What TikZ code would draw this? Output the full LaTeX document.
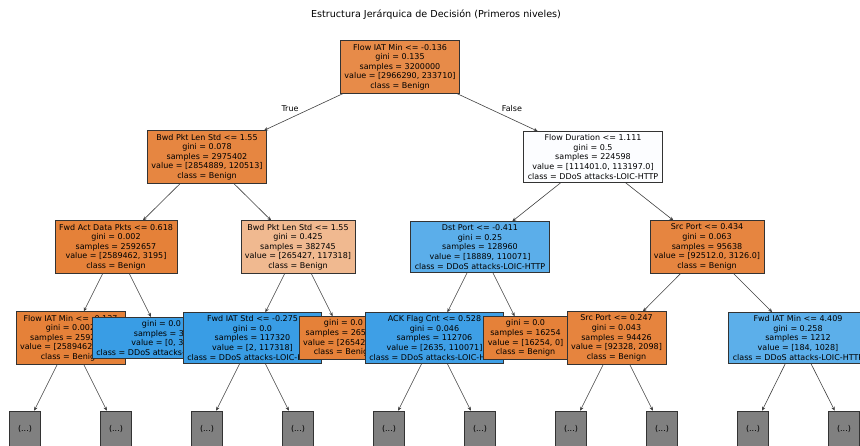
\documentclass[tikz,border=0pt]{standalone}
\usepackage{fontspec}
\setmainfont{DejaVu Sans}
\usetikzlibrary{arrows.meta}
\definecolor{benign}{RGB}{229,129,57}
\definecolor{ddos}{RGB}{57,157,229}
\definecolor{rootfill}{RGB}{231,139,73}
\definecolor{bwdfill}{RGB}{230,134,65}
\definecolor{durfill}{RGB}{252,253,255}
\definecolor{bwdlight}{RGB}{240,185,144}
\definecolor{dstfill}{RGB}{91,174,234}
\definecolor{srcfill}{RGB}{230,133,64}
\definecolor{ackfill}{RGB}{62,159,230}
\definecolor{srclow}{RGB}{230,132,62}
\definecolor{iatfill}{RGB}{92,175,234}
\definecolor{morefill}{RGB}{128,128,128}

\begin{document}
\begin{tikzpicture}[x=1pt, y=-1pt, font=\fontsize{8}{9.6}\selectfont,
  split/.style={draw=black!80, line width=0.6pt, align=center, inner xsep=4pt, inner ysep=3.2pt},
  more/.style={draw=black!80, line width=0.6pt, fill=morefill, minimum width=31pt, minimum height=36pt, inner sep=0pt},
  edge/.style={draw=black!75, line width=0.6pt, -{Stealth[length=4pt,width=3.5pt]}}]
  \useasboundingbox (0,0) rectangle (860,446);
  \clip (0,0) rectangle (860,446);

  \node (title) at (436,15) {\fontsize{9.6}{11}\selectfont Estructura Jerárquica de Decisión (Primeros niveles)};

  \node[split, fill=rootfill] (root) at (400,67) {Flow IAT Min <= -0.136\\gini = 0.135\\samples = 3200000\\value = [2966290, 233710]\\class = Benign};

  \node[split, fill=bwdfill] (bwdA) at (207,157) {Bwd Pkt Len Std <= 1.55\\gini = 0.078\\samples = 2975402\\value = [2854889, 120513]\\class = Benign};
  \node[split, fill=durfill] (flowdur) at (593,157) {Flow Duration <= 1.111\\gini = 0.5\\samples = 224598\\value = [111401.0, 113197.0]\\class = DDoS attacks-LOIC-HTTP};

  \node[split, fill=benign] (fwdact) at (116,247) {Fwd Act Data Pkts <= 0.618\\gini = 0.002\\samples = 2592657\\value = [2589462, 3195]\\class = Benign};
  \node[split, fill=bwdlight] (bwdB) at (298,247) {Bwd Pkt Len Std <= 1.55\\gini = 0.425\\samples = 382745\\value = [265427, 117318]\\class = Benign};
  \node[split, fill=dstfill] (dstport) at (480,247) {Dst Port <= -0.411\\gini = 0.25\\samples = 128960\\value = [18889, 110071]\\class = DDoS attacks-LOIC-HTTP};
  \node[split, fill=srcfill] (srcA) at (707,247) {Src Port <= 0.434\\gini = 0.063\\samples = 95638\\value = [92512.0, 3126.0]\\class = Benign};

  \node[split, fill=benign] (flowiat) at (70.5,338) {Flow IAT Min <= -0.137\\gini = 0.002\\samples = 2592621\\value = [2589462, 3159]\\class = Benign};
  \node[split, fill=ddos] (leafddos) at (161.5,338) {gini = 0.0\\samples = 36\\value = [0, 36]\\class = DDoS attacks-LOIC-HTTP};
  \node[split, fill=ddos] (fwdiatstd) at (252.5,338) {Fwd IAT Std <= -0.275\\gini = 0.0\\samples = 117320\\value = [2, 117318]\\class = DDoS attacks-LOIC-HTTP};
  \node[split, fill=benign] (leafbenA) at (343.5,338) {gini = 0.0\\samples = 265425\\value = [265425, 0]\\class = Benign};
  \node[split, fill=ackfill] (ackflag) at (434.5,338) {ACK Flag Cnt <= 0.528\\gini = 0.046\\samples = 112706\\value = [2635, 110071]\\class = DDoS attacks-LOIC-HTTP};
  \node[split, fill=benign] (leafbenB) at (525.5,338) {gini = 0.0\\samples = 16254\\value = [16254, 0]\\class = Benign};
  \node[split, fill=srclow] (srcB) at (616.5,338) {Src Port <= 0.247\\gini = 0.043\\samples = 94426\\value = [92328, 2098]\\class = Benign};
  \node[split, fill=iatfill] (fwdiatmin) at (798,338) {Fwd IAT Min <= 4.409\\gini = 0.258\\samples = 1212\\value = [184, 1028]\\class = DDoS attacks-LOIC-HTTP};

  \foreach \x [count=\i] in {25,116,207,298,389,480,571,662,753,844}
    \node[more] (more\i) at (\x,429) {(...)};

  \foreach \a/\b in {root/bwdA, root/flowdur, bwdA/fwdact, bwdA/bwdB, flowdur/dstport, flowdur/srcA,
    fwdact/flowiat, fwdact/leafddos, bwdB/fwdiatstd, bwdB/leafbenA, dstport/ackflag, dstport/leafbenB,
    srcA/srcB, srcA/fwdiatmin, flowiat/more1, flowiat/more2, fwdiatstd/more3, fwdiatstd/more4,
    ackflag/more5, ackflag/more6, srcB/more7, srcB/more8, fwdiatmin/more9, fwdiatmin/more10}
    \draw[edge] (\a) -- (\b);

  \node (truelbl) at (290,109) {True};
  \node (falselbl) at (512,109) {False};
\end{tikzpicture}
\end{document}
